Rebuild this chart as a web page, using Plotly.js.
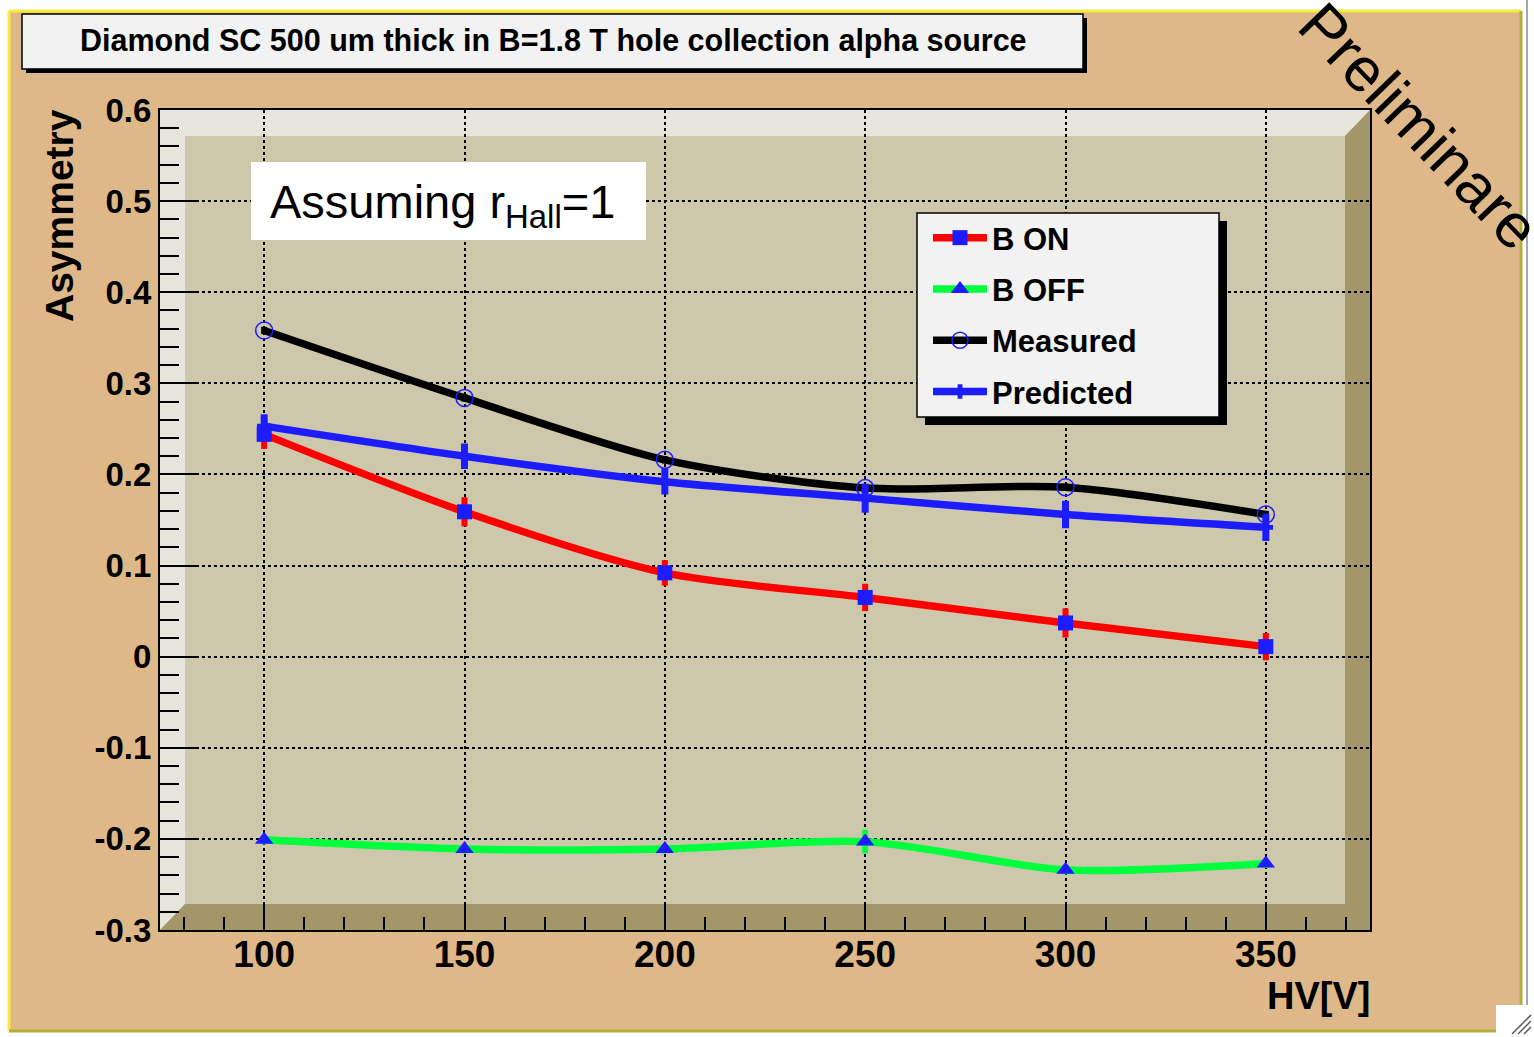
<!DOCTYPE html>
<html><head><meta charset="utf-8">
<script src="https://cdn.plot.ly/plotly-3.0.1.min.js"></script>
<style>html,body{margin:0;padding:0;background:#fff;} #chart{width:1534px;height:1037px;}</style>
</head><body><div id="chart"></div>
<script>
// ---- data ----
const hv = [100, 150, 200, 250, 300, 350];
const bOn = [0.244, 0.159, 0.092, 0.065, 0.037, 0.011];
const bOnErr = [0.016, 0.016, 0.014, 0.015, 0.016, 0.015];
const bOff = [-0.201, -0.211, -0.211, -0.203, -0.234, -0.227];
const bOffErr = [0.005, 0.005, 0.005, 0.013, 0.005, 0.005];
const measured = [0.358, 0.284, 0.216, 0.185, 0.186, 0.156];
const measuredErr = [0.004, 0.004, 0.004, 0.004, 0.004, 0.004];
const predicted = [0.253, 0.220, 0.192, 0.174, 0.156, 0.142];
const predictedErr = [0.013, 0.014, 0.014, 0.016, 0.015, 0.015];
const seriesNames = ['B ON', 'B OFF', 'Measured', 'Predicted'];
const xTickVals = [100, 150, 200, 250, 300, 350];
const xTickText = ['100', '150', '200', '250', '300', '350'];
const yTickVals = [-0.3, -0.2, -0.1, 0, 0.1, 0.2, 0.3, 0.4, 0.5, 0.6];
const yTickText = ['-0.3', '-0.2', '-0.1', '0', '0.1', '0.2', '0.3', '0.4', '0.5', '0.6'];
const chartTitle = 'Diamond SC 500 um thick in B=1.8 T hole collection alpha source';
const xTitle = 'HV[V]';
const yTitle = 'Asymmetry';
const noteText = 'Assuming r<sub>Hall</sub>=1';
const stampText = 'Preliminare';

// ---- geometry helpers (pixel -> paper) ----
const W = 1534, H = 1037;
const L = 160, R = 1370, T = 110, B = 930;
const px = x => (x - L) / (R - L);
const py = y => (B - y) / (B - T);
const FONT = 'Liberation Sans, Arial, Helvetica, sans-serif';
const BLUE = '#1c1cff';

function rect(x0, y0, x1, y1, fill, line, lw, layer) {
  return {type: 'rect', xref: 'paper', yref: 'paper', x0: px(x0), x1: px(x1), y0: py(y1), y1: py(y0),
    fillcolor: fill, line: {color: line || 'rgba(0,0,0,0)', width: lw || 0}, layer: layer || 'below'};
}
function seg(x0, y0, x1, y1, color, w, layer) {
  return {type: 'line', xref: 'paper', yref: 'paper', x0: px(x0), x1: px(x1), y0: py(y0), y1: py(y1),
    line: {color: color, width: w}, layer: layer || 'below'};
}
function poly(pts, fill, layer) {
  const d = pts.map((p, i) => (i ? 'L' : 'M') + px(p[0]) + ',' + py(p[1])).join(' ') + ' Z';
  return {type: 'path', xref: 'paper', yref: 'paper', path: d, fillcolor: fill,
    line: {width: 0, color: 'rgba(0,0,0,0)'}, layer: layer || 'below'};
}

const shapes = [
  rect(9, 11, 1521, 1031, '#dfb88a'),
  seg(9, 11, 1521, 11, '#f4ec3a', 3),
  seg(9, 11, 9, 1031, '#f4ec3a', 3),
  seg(1521, 11, 1521, 1031, '#b3ad3e', 3),
  seg(9, 1031, 1521, 1031, '#b3ad3e', 3),
  seg(1527, 0, 1527, 1005, '#a8a8a8', 2),
  rect(1496, 1005, 1534, 1037, '#ffffff'),
  seg(1512, 1034, 1531, 1015, '#555555', 1.5),
  seg(1518, 1034, 1531, 1021, '#555555', 1.5),
  seg(1524, 1034, 1531, 1027, '#555555', 1.5),
  // plot frame with 3D faces
  rect(L, T, R, B, '#cdc7ac'),
  poly([[L, T], [R, T], [1345, 136], [185, 136], [185, 904], [L, B]], '#e8e6dc'),
  poly([[R, T], [R, B], [L, B], [185, 904], [1345, 904], [1345, 136]], '#a3976a'),
  // title box
  rect(26, 18, 1087, 73, '#000000', null, 0, 'above'),
  rect(22, 14, 1083, 69, '#f2f2f2', '#000000', 1.5, 'above'),
  // note box
  rect(251, 162, 646, 240, '#ffffff', null, 0, 'above'),
  // legend box + shadow
  rect(925, 221, 1227, 425, '#000000', null, 0, 'above'),
  rect(917, 213, 1219, 417, '#f2f2f2', '#000000', 1.5, 'above')
];

const traces = [
  {x: hv, y: bOn, name: seriesNames[0], legendgroup: 'g1', mode: 'lines+markers',
   line: {color: '#ff0000', width: 7.5, shape: 'spline', smoothing: 0.8},
   marker: {symbol: 'square', size: 15, color: BLUE},
   error_y: {type: 'data', array: bOnErr, color: '#ff0000', thickness: 6, width: 0}},
  {x: hv, y: bOff, name: seriesNames[1], legendgroup: 'g2', mode: 'lines+markers',
   line: {color: '#00ff3c', width: 7.5, shape: 'spline', smoothing: 0.8},
   marker: {symbol: 'triangle-up', size: 16, color: BLUE},
   error_y: {type: 'data', array: bOffErr, color: '#00ff3c', thickness: 6, width: 0}},
  {x: hv, y: measured, name: seriesNames[2], legendgroup: 'g3', mode: 'lines+markers',
   line: {color: '#000000', width: 7.5, shape: 'spline', smoothing: 0.8},
   marker: {symbol: 'circle-open', size: 17, color: BLUE, line: {width: 1.5, color: BLUE}},
   error_y: {type: 'data', array: measuredErr, color: '#000000', thickness: 6, width: 0}},
  {x: hv, y: predicted, name: seriesNames[3], legendgroup: 'g4', mode: 'lines+markers',
   line: {color: BLUE, width: 7.5, shape: 'spline', smoothing: 0.8},
   marker: {symbol: 'cross', size: 12, color: BLUE},
   error_y: {type: 'data', array: predictedErr, color: BLUE, thickness: 7, width: 0}}
];

const annotations = [
  {text: chartTitle, x: px(553), y: py(41), xref: 'paper', yref: 'paper', showarrow: false,
   xanchor: 'center', yanchor: 'middle', font: {family: FONT, size: 30.5, weight: 'bold', color: '#000'}},
  {text: noteText, x: px(268), y: py(205), xref: 'paper', yref: 'paper', showarrow: false,
   xanchor: 'left', yanchor: 'middle', font: {family: FONT, size: 47, color: '#000'}},
  {text: yTitle, x: px(59), y: py(216), xref: 'paper', yref: 'paper', showarrow: false, textangle: -90,
   xanchor: 'center', yanchor: 'middle', font: {family: FONT, size: 39, weight: 'bold', color: '#000'}},
  {text: xTitle, x: px(1372), y: py(996), xref: 'paper', yref: 'paper', showarrow: false,
   xanchor: 'right', yanchor: 'middle', font: {family: FONT, size: 38, weight: 'bold', color: '#000'}},
  {text: stampText, x: px(1420), y: py(126), xref: 'paper', yref: 'paper', showarrow: false, textangle: 46,
   xanchor: 'center', yanchor: 'middle', font: {family: FONT, size: 62, color: '#000'}}
];

const layout = {
  width: W, height: H, autosize: false,
  margin: {l: L, r: W - R, t: T, b: H - B, pad: 0},
  paper_bgcolor: '#ffffff', plot_bgcolor: 'rgba(0,0,0,0)',
  font: {family: FONT, color: '#000'},
  showlegend: true, hovermode: false,
  xaxis: {range: [74, 376], tickmode: 'array', tickvals: xTickVals, ticktext: xTickText,
    ticks: 'inside', ticklen: 25, tickwidth: 2, tickcolor: '#000', ticklabelstandoff: -9,
    tickfont: {family: FONT, size: 37, weight: 'bold', color: '#000'},
    showgrid: true, gridcolor: '#000', gridwidth: 2, griddash: 'dot', zeroline: false,
    showline: true, linecolor: '#000', linewidth: 2, mirror: true,
    minor: {tickmode: 'linear', tick0: 0, dtick: 10, ticks: 'inside', ticklen: 13, tickwidth: 2, tickcolor: '#000', showgrid: false}},
  yaxis: {range: [-0.3, 0.6], tickmode: 'array', tickvals: yTickVals, ticktext: yTickText,
    ticks: 'inside', ticklen: 36, tickwidth: 2, tickcolor: '#000', ticklabelstandoff: 0,
    tickfont: {family: FONT, size: 33, weight: 'bold', color: '#000'},
    showgrid: true, gridcolor: '#000', gridwidth: 2, griddash: 'dot', zeroline: false,
    showline: true, linecolor: '#000', linewidth: 2, mirror: true,
    minor: {tickmode: 'linear', tick0: 0, dtick: 0.02, ticks: 'inside', ticklen: 19, tickwidth: 2, tickcolor: '#000', showgrid: false}},
  legend: {x: px(928), y: py(211), xanchor: 'left', yanchor: 'top', bgcolor: 'rgba(0,0,0,0)',
    borderwidth: 0, tracegroupgap: 8, itemwidth: 54,
    font: {family: FONT, size: 31, weight: 'bold', color: '#000'}},
  shapes: shapes,
  annotations: annotations
};

Plotly.newPlot('chart', traces, layout, {displayModeBar: false, staticPlot: true});
</script>
</body></html>
